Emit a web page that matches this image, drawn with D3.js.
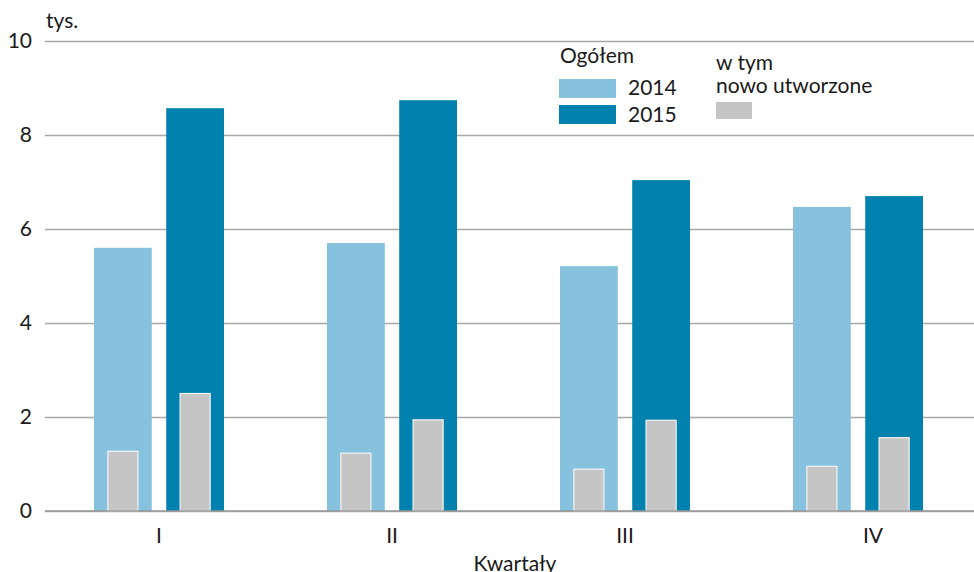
<!DOCTYPE html>
<html>
<head>
<meta charset="utf-8">
<script src="https://cdn.jsdelivr.net/npm/d3@7"></script>
<style>
  body { margin: 0; background: #fff; }
  svg text { font-family: Lato, "Noto Sans", sans-serif; fill: #1a1a1a; }
</style>
</head>
<body>
<div id="chart"></div>
<script>
// data (tys.)
var quarters = ["I", "II", "III", "IV"];
var years = ["2014", "2015"];
var total2014 = [5.60, 5.70, 5.21, 6.47];
var total2015 = [8.57, 8.74, 7.04, 6.70];
var new2014 = [1.27, 1.23, 0.89, 0.95];
var new2015 = [2.50, 1.94, 1.93, 1.56];
var yTicks = [0, 2, 4, 6, 8, 10];

var colors = {"2014": "#86c1de", "2015": "#0181ad"};
var grey = "#c4c5c4";
var fs = "21px";

var W = 974, H = 572;
var margin = {top: 41, right: 0, bottom: 61, left: 45};

var rows = [];
quarters.forEach(function(q, i) {
  rows.push({q: q, year: "2014", total: total2014[i], fresh: new2014[i]});
  rows.push({q: q, year: "2015", total: total2015[i], fresh: new2015[i]});
});

var svg = d3.select("#chart")
  .append("svg")
    .attr("width", W)
    .attr("height", H);

var y = d3.scaleLinear()
  .domain([0, 10])
  .range([H - margin.bottom, margin.top]);

var x0 = d3.scaleBand()
  .domain(quarters)
  .range([42.5, 974.5]);

var x1 = d3.scaleBand()
  .domain(years)
  .range([-65, 65])
  .paddingInner(0.2);

// gridlines + y labels
var yAxis = svg.append("g")
  .attr("transform", "translate(" + margin.left + ",0)")
  .call(d3.axisLeft(y).tickValues(yTicks).tickSize(-(W - margin.left)).tickPadding(13));
yAxis.select(".domain").remove();
yAxis.selectAll("line")
  .attr("stroke", "#a8a8a8")
  .attr("stroke-width", 1.6);
yAxis.selectAll("text")
  .style("font-size", fs)
  .style("font-family", "Lato, 'Noto Sans', sans-serif")
  .attr("fill", "#1a1a1a");

svg.append("text")
  .attr("x", 46)
  .attr("y", 28)
  .style("font-size", fs)
  .text("tys.");

// bars
var bars = svg.append("g");
bars.selectAll("rect.total")
  .data(rows)
  .enter()
  .append("rect")
    .attr("class", "total")
    .attr("x", function(d) { return x0(d.q) + x0.bandwidth() / 2 + x1(d.year); })
    .attr("y", function(d) { return y(d.total); })
    .attr("width", x1.bandwidth())
    .attr("height", function(d) { return y(0) - y(d.total); })
    .attr("fill", function(d) { return colors[d.year]; });

var gw = x1.bandwidth() * 0.52;
bars.selectAll("rect.fresh")
  .data(rows)
  .enter()
  .append("rect")
    .attr("class", "fresh")
    .attr("x", function(d) { return x0(d.q) + x0.bandwidth() / 2 + x1(d.year) + (x1.bandwidth() - gw) / 2; })
    .attr("y", function(d) { return y(d.fresh); })
    .attr("width", gw)
    .attr("height", function(d) { return y(0) - y(d.fresh); })
    .attr("fill", grey)
    .attr("stroke", "#f4f4f4")
    .attr("stroke-width", 1.2);

// baseline on top of bars
svg.append("line")
  .attr("x1", margin.left)
  .attr("x2", W)
  .attr("y1", y(0))
  .attr("y2", y(0))
  .attr("stroke", "#999")
  .attr("stroke-width", 1.6);

// x labels
var xAxis = svg.append("g")
  .attr("transform", "translate(0," + y(0) + ")")
  .call(d3.axisBottom(x0).tickSize(0).tickPadding(17));
xAxis.select(".domain").remove();
xAxis.selectAll("text")
  .style("font-size", fs)
  .style("font-family", "Lato, 'Noto Sans', sans-serif")
  .attr("fill", "#1a1a1a")
  .attr("dx", function(d, i) { return i === 3 ? 15 : 0; });

svg.append("text")
  .attr("x", 515)
  .attr("y", 571)
  .attr("text-anchor", "middle")
  .style("font-size", fs)
  .text("Kwartały");

// legend
var leg = svg.append("g");
leg.append("text").attr("x", 560).attr("y", 63).style("font-size", fs).text("Ogółem");
years.forEach(function(yr, i) {
  leg.append("rect")
    .attr("x", 559).attr("y", 79 + i * 26)
    .attr("width", 57).attr("height", 19)
    .attr("fill", colors[yr]);
  leg.append("text")
    .attr("x", 628).attr("y", 95 + i * 27)
    .style("font-size", fs)
    .text(yr);
});
leg.append("text").attr("x", 716).attr("y", 70).style("font-size", fs).text("w tym");
leg.append("text").attr("x", 716).attr("y", 93).style("font-size", fs).text("nowo utworzone");
leg.append("rect")
  .attr("x", 716).attr("y", 102)
  .attr("width", 36).attr("height", 17)
  .attr("fill", grey);
</script>
</body>
</html>
